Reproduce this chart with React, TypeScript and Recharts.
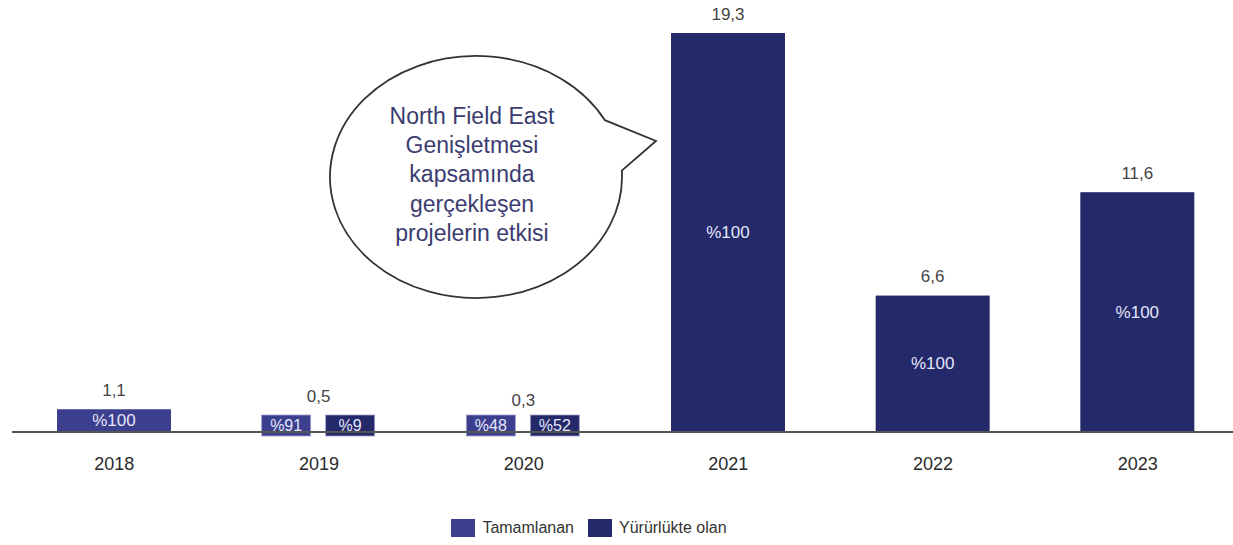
import { BarChart, Bar, XAxis, YAxis, Legend, LabelList, Customized } from "recharts";

const years = ["2018", "2019", "2020", "2021", "2022", "2023"];
const totals = [1.1, 0.5, 0.3, 19.3, 6.6, 11.6];
const tamamlananPct = [100, 91, 48, 0, 0, 0];
const yururluktePct = [0, 9, 52, 100, 100, 100];
const bubbleLines = [
  "North Field East",
  "Genişletmesi",
  "kapsamında",
  "gerçekleşen",
  "projelerin etkisi",
];

const COLORS = { tamamlanan: "#3b3f8e", yururlukte: "#242969" };
const FONT = '"Liberation Sans", Arial, sans-serif';

const data = years.map((year, i) => ({
  year,
  total: totals[i],
  tamamlanan: (totals[i] * tamamlananPct[i]) / 100,
  yururlukte: (totals[i] * yururluktePct[i]) / 100,
  tPct: tamamlananPct[i],
  yPct: yururluktePct[i],
  split: tamamlananPct[i] > 0 && yururluktePct[i] > 0,
}));

const fmt = (v: number) => v.toFixed(1).replace(".", ",");

// small stacked bars are drawn as two label boxes sitting on the axis
function makeShape(side: "left" | "right", pctKey: "tPct" | "yPct") {
  return (props: any) => {
    const { x, y, width, height, fill, payload, background } = props;
    if (!payload?.split) {
      if (!height || height <= 0) return <g />;
      return <rect x={x} y={y} width={width} height={height} fill={fill} />;
    }
    const base = background ? background.y + background.height : y + height;
    const cx = x + width / 2;
    const bw = 49;
    const bx = side === "left" ? cx - 8 - bw : cx + 7;
    return (
      <g>
        <rect x={bx} y={base - 17} width={bw} height={21} fill={fill} stroke="#9da1cc" strokeWidth={0.8} />
        <text x={bx + bw / 2} y={base - 6.5} textAnchor="middle" dominantBaseline="central" fill="#e6e8fb" fontSize={16} fontFamily={FONT}>
          {`%${payload[pctKey]}`}
        </text>
      </g>
    );
  };
}

function insideLabel(pctKey: "tPct" | "yPct") {
  return (props: any) => {
    const vb = props.viewBox ?? props;
    const d = data[props.index];
    if (!d || d.split || d[pctKey] !== 100) return null;
    return (
      <text x={vb.x + vb.width / 2} y={vb.y + vb.height / 2} textAnchor="middle" dominantBaseline="central" fill="#e3e6fa" fontSize={17} fontFamily={FONT}>
        {`%${d[pctKey]}`}
      </text>
    );
  };
}

function totalLabel(props: any) {
  const vb = props.viewBox ?? props;
  const d = data[props.index];
  if (!d) return null;
  const cy = vb.y - (d.split ? 25 : 19);
  return (
    <text x={vb.x + vb.width / 2} y={cy} textAnchor="middle" dominantBaseline="central" fill="#444" fontSize={17} fontFamily={FONT}>
      {fmt(d.total)}
    </text>
  );
}

function SpeechBubble() {
  const cx = 476, cy = 177, rx = 146, ry = 121;
  const a1 = (-28 * Math.PI) / 180, a2 = (-3 * Math.PI) / 180;
  const p1 = [cx + rx * Math.cos(a1), cy + ry * Math.sin(a1)];
  const p2 = [cx + rx * Math.cos(a2), cy + ry * Math.sin(a2)];
  const tip = [656, 141];
  const d = `M ${p1[0]} ${p1[1]} A ${rx} ${ry} 0 1 0 ${p2[0]} ${p2[1]} L ${tip[0]} ${tip[1]} Z`;
  return (
    <g>
      <path d={d} fill="#fff" stroke="#333" strokeWidth={1.8} />
      {bubbleLines.map((line, i) => (
        <text key={line} x={472} y={116 + i * 29.2} textAnchor="middle" dominantBaseline="central" fill="#3b3c6f" fontSize={23} fontFamily={FONT}>
          {line}
        </text>
      ))}
    </g>
  );
}

function LegendContent() {
  const items = [
    { label: "Tamamlanan", color: COLORS.tamamlanan },
    { label: "Yürürlükte olan", color: COLORS.yururlukte },
  ];
  return (
    <div style={{ display: "flex", justifyContent: "center", paddingRight: 60, fontFamily: FONT, fontSize: 16, color: "#333" }}>
      {items.map((it) => (
        <div key={it.label} style={{ display: "flex", alignItems: "center", marginRight: 14 }}>
          <span style={{ display: "inline-block", width: 24, height: 18, background: it.color, marginRight: 7 }} />
          {it.label}
        </div>
      ))}
    </div>
  );
}

export default function App() {
  return (
    <div style={{ position: "absolute", left: 0, top: 0, width: 1233, height: 545, overflow: "hidden", background: "#fff" }}>
      <BarChart width={1240} height={545} data={data} margin={{ top: 33, right: 0, left: 12, bottom: 8 }} barSize={114}>
        <XAxis
          dataKey="year"
          interval={0}
          height={87}
          tickLine={false}
          tickMargin={19}
          axisLine={{ stroke: "#555", strokeWidth: 2 }}
          tick={{ fill: "#2a2a2a", fontSize: 18, fontFamily: FONT }}
        />
        <YAxis hide domain={[0, 19.3]} />
        <Legend verticalAlign="bottom" content={<LegendContent />} />
        <Bar dataKey="tamamlanan" name="Tamamlanan" stackId="a" fill={COLORS.tamamlanan} isAnimationActive={false} shape={makeShape("left", "tPct")}>
          <LabelList dataKey="tamamlanan" content={insideLabel("tPct")} />
        </Bar>
        <Bar dataKey="yururlukte" name="Yürürlükte olan" stackId="a" fill={COLORS.yururlukte} isAnimationActive={false} shape={makeShape("right", "yPct")}>
          <LabelList dataKey="yururlukte" content={insideLabel("yPct")} />
          <LabelList dataKey="total" content={totalLabel} />
        </Bar>
        <Customized component={SpeechBubble} />
      </BarChart>
    </div>
  );
}
